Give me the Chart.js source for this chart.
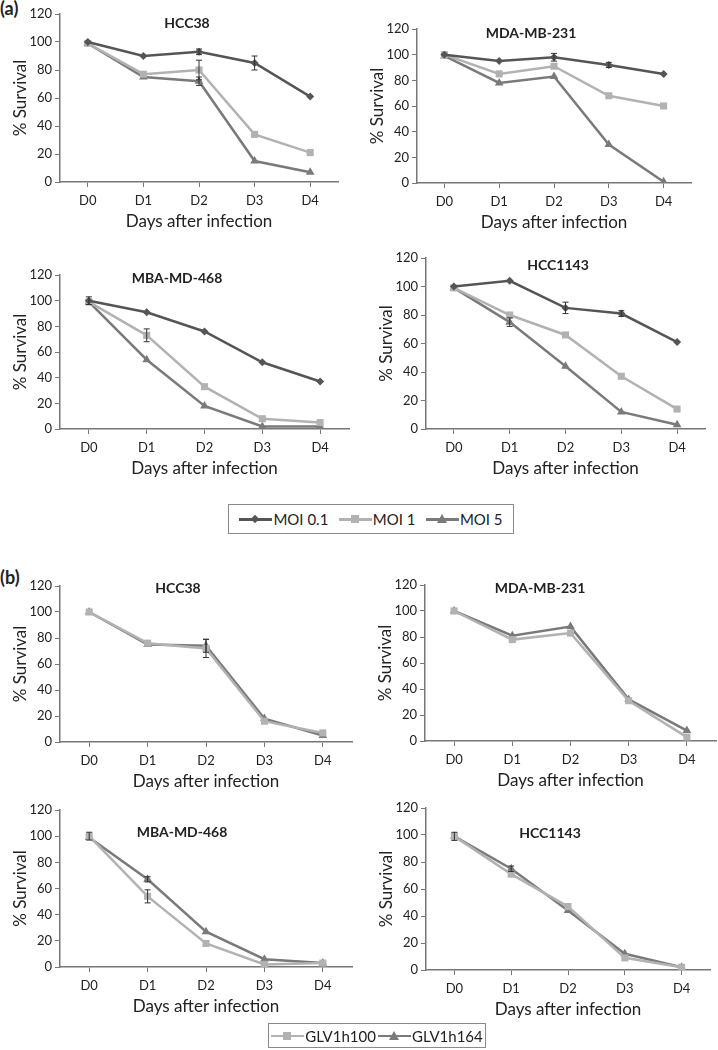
<!DOCTYPE html>
<html>
<head>
<meta charset="utf-8">
<script src="https://cdn.jsdelivr.net/npm/chart.js@4"></script>
<style>
  body { margin: 0; background: #fff; font-family: Lato, sans-serif; }
  #page { position: relative; width: 718px; height: 1050px; overflow: hidden; }
  .panel { position: absolute; }
  .tag { position: absolute; font-weight: bold; font-size: 18px; color: #222; }
  .legend { position: absolute; border: 1px solid #8a8a8a; display: flex; align-items: center; justify-content: space-evenly; font-size: 15px; color: #222; box-sizing: border-box; white-space: nowrap; }
  .item { display: flex; align-items: center; white-space: nowrap; }
  .key { position: relative; width: 33px; height: 12px; margin-right: 1px; flex: none; }
  .key .ln { position: absolute; left: 0; right: 0; top: 5px; height: 2.5px; }
  .key .mk { position: absolute; left: 12px; top: 2px; width: 8px; height: 8px; }
</style>
</head>
<body>
<div id="page">
  <div class="tag" style="left:0;top:-3px">(a)</div>
  <div class="tag" style="left:0;top:566px">(b)</div>
</div>
<script>
const days = ['D0', 'D1', 'D2', 'D3', 'D4'];
const yMax = 120;
const yStep = 20;

// (a) MOI series
const hcc38Moi01 = [100, 90, 93, 85, 61];
const hcc38Moi1 = [99, 77, 80, 34, 21];
const hcc38Moi5 = [99, 75, 72, 15, 7];
const hcc38Moi01Err = [1, 1, 2, 5, 1];
const hcc38Moi1Err = [1, 1, 7, 1, 1];
const hcc38Moi5Err = [1, 1, 3, 1, 1];

const mda231Moi01 = [100, 95, 98, 92, 85];
const mda231Moi1 = [100, 85, 91, 68, 60];
const mda231Moi5 = [99, 78, 83, 30, 1];
const mda231Moi01Err = [1, 1, 3, 2, 1];
const mda231Moi1Err = [1, 1, 1, 1, 1];
const mda231Moi5Err = [1, 1, 1, 1, 1];

const mba468Moi01 = [100, 91, 76, 52, 37];
const mba468Moi1 = [99, 73, 33, 8, 5];
const mba468Moi5 = [99, 54, 18, 2, 2];
const mba468Moi01Err = [3, 1, 1, 1, 1];
const mba468Moi1Err = [1, 5, 1, 1, 1];
const mba468Moi5Err = [1, 1, 1, 1, 1];

const hcc1143Moi01 = [100, 104, 85, 81, 61];
const hcc1143Moi1 = [99, 80, 66, 37, 14];
const hcc1143Moi5 = [99, 75, 44, 12, 3];
const hcc1143Moi01Err = [1, 1, 4, 2, 1];
const hcc1143Moi1Err = [1, 1, 1, 1, 1];
const hcc1143Moi5Err = [1, 3, 1, 1, 1];

// (b) virus strain series
const hcc38G100 = [100, 76, 72, 16, 7];
const hcc38G164 = [100, 75, 74, 18, 5];
const hcc38G100Err = [1, 1, 7, 1, 1];
const hcc38G164Err = [1, 1, 5, 1, 1];

const mda231G100 = [100, 78, 83, 31, 3];
const mda231G164 = [100, 81, 88, 32, 8];
const mda231G100Err = [1, 1, 1, 1, 1];
const mda231G164Err = [1, 1, 1, 1, 1];

const mba468G100 = [100, 54, 18, 2, 3];
const mba468G164 = [99, 67, 27, 6, 3];
const mba468G100Err = [3, 5, 1, 1, 1];
const mba468G164Err = [1, 2, 1, 1, 1];

const hcc1143G100 = [99, 71, 47, 9, 2];
const hcc1143G164 = [99, 75, 44, 12, 2];
const hcc1143G100Err = [3, 1, 1, 1, 1];
const hcc1143G164Err = [1, 2, 1, 1, 1];

const DARK = '#555555';
const LIGHT = '#b2b2b2';
const MID = '#7a7a7a';
const FONT = 'Lato, sans-serif';

function moiSets(a, b, c, ea, eb, ec) {
  return [
    { label: 'MOI 0.1', data: a, err: ea, borderColor: DARK, backgroundColor: DARK, pointStyle: 'rectRot', pointRadius: 4 },
    { label: 'MOI 1', data: b, err: eb, borderColor: LIGHT, backgroundColor: LIGHT, pointStyle: 'rect', pointRadius: 5 },
    { label: 'MOI 5', data: c, err: ec, borderColor: MID, backgroundColor: MID, pointStyle: 'triangle', pointRadius: 5 }
  ];
}
function glvSets(a, b, ea, eb) {
  return [
    { label: 'GLV1h100', data: a, err: ea, borderColor: LIGHT, backgroundColor: LIGHT, pointStyle: 'rect', pointRadius: 5 },
    { label: 'GLV1h164', data: b, err: eb, borderColor: MID, backgroundColor: MID, pointStyle: 'triangle', pointRadius: 5 }
  ];
}

// error bars from each dataset's err array
const errorBars = {
  id: 'errorBars',
  afterDatasetsDraw(chart) {
    const ctx = chart.ctx, y = chart.scales.y;
    ctx.save();
    ctx.strokeStyle = '#333';
    ctx.lineWidth = 1;
    chart.data.datasets.forEach((ds, i) => {
      const meta = chart.getDatasetMeta(i);
      meta.data.forEach((pt, j) => {
        const e = ds.err[j];
        if (e < 2) return;
        const top = y.getPixelForValue(ds.data[j] + e);
        const bot = y.getPixelForValue(ds.data[j] - e);
        ctx.beginPath();
        ctx.moveTo(pt.x, top); ctx.lineTo(pt.x, bot);
        ctx.moveTo(pt.x - 3, top); ctx.lineTo(pt.x + 3, top);
        ctx.moveTo(pt.x - 3, bot); ctx.lineTo(pt.x + 3, bot);
        ctx.stroke();
      });
    });
    ctx.restore();
  }
};

// cell-line name inside the plot
const panelTitle = {
  id: 'panelTitle',
  afterDraw(chart, args, opts) {
    const ctx = chart.ctx;
    ctx.save();
    ctx.font = 'bold 14px ' + FONT;
    ctx.fillStyle = '#222';
    ctx.textAlign = 'center';
    ctx.textBaseline = 'middle';
    ctx.fillText(opts.text, opts.x, opts.y);
    ctx.restore();
  }
};

function makePanel(p) {
  const padTop = 12, padRight = 8, yW = 60, xH = 54;
  const left = p.axisX - yW, top = p.y120 - padTop;
  const w = p.right - left + padRight, h = (p.y0 - p.y120) + padTop + xH;
  const div = document.createElement('div');
  div.className = 'panel';
  div.style.left = left + 'px';
  div.style.top = top + 'px';
  const cv = document.createElement('canvas');
  cv.width = w; cv.height = h;
  div.appendChild(cv);
  document.getElementById('page').appendChild(div);
  new Chart(cv, {
    type: 'line',
    data: {
      labels: days,
      datasets: p.sets.map(s => Object.assign({ borderWidth: 2.5, tension: 0, pointBorderWidth: 0, pointHoverRadius: 5 }, s))
    },
    options: {
      responsive: false,
      animation: false,
      layout: { padding: { top: padTop, right: padRight, left: 0, bottom: 0 } },
      plugins: {
        legend: { display: false },
        tooltip: { enabled: false },
        panelTitle: { text: p.title, x: p.tx - left, y: p.ty - top }
      },
      scales: {
        x: {
          offset: true,
          afterFit: s => { s.height = xH; },
          grid: { display: true, drawOnChartArea: false, drawTicks: true, tickLength: 5, color: '#777' },
          border: { display: true, color: '#777', width: 1.5 },
          ticks: { color: '#222', padding: 6, font: { family: FONT, size: 13 } },
          title: { display: true, text: 'Days after infection', color: '#222', padding: { top: 0, bottom: 4 }, font: { family: FONT, size: 17 } }
        },
        y: {
          min: 0, max: yMax,
          afterFit: s => { s.width = yW; },
          grid: { display: true, drawOnChartArea: false, drawTicks: true, tickLength: 5, color: '#777' },
          border: { display: true, color: '#777', width: 1.5 },
          ticks: { stepSize: yStep, color: '#222', padding: 3, font: { family: FONT, size: 13 } },
          title: { display: true, text: '% Survival', color: '#222', padding: { top: 10, bottom: 0 }, font: { family: FONT, size: 17 } }
        }
      }
    },
    plugins: [errorBars, panelTitle]
  });
}

const panels = [
  { title: 'HCC38', axisX: 60, y120: 14, y0: 182, right: 338, tx: 187, ty: 23, sets: moiSets(hcc38Moi01, hcc38Moi1, hcc38Moi5, hcc38Moi01Err, hcc38Moi1Err, hcc38Moi5Err) },
  { title: 'MDA-MB-231', axisX: 417, y120: 29, y0: 183, right: 691, tx: 531, ty: 33, sets: moiSets(mda231Moi01, mda231Moi1, mda231Moi5, mda231Moi01Err, mda231Moi1Err, mda231Moi5Err) },
  { title: 'MBA-MD-468', axisX: 60, y120: 275, y0: 429, right: 349, tx: 177, ty: 278, sets: moiSets(mba468Moi01, mba468Moi1, mba468Moi5, mba468Moi01Err, mba468Moi1Err, mba468Moi5Err) },
  { title: 'HCC1143', axisX: 426, y120: 258, y0: 429, right: 705, tx: 558, ty: 265, sets: moiSets(hcc1143Moi01, hcc1143Moi1, hcc1143Moi5, hcc1143Moi01Err, hcc1143Moi1Err, hcc1143Moi5Err) },
  { title: 'HCC38', axisX: 60, y120: 586, y0: 742, right: 352, tx: 178, ty: 588, sets: glvSets(hcc38G100, hcc38G164, hcc38G100Err, hcc38G164Err) },
  { title: 'MDA-MB-231', axisX: 425, y120: 585, y0: 741, right: 716, tx: 540, ty: 588, sets: glvSets(mda231G100, mda231G164, mda231G100Err, mda231G164Err) },
  { title: 'MBA-MD-468', axisX: 60, y120: 810, y0: 967, right: 352, tx: 182, ty: 832, sets: glvSets(mba468G100, mba468G164, mba468G100Err, mba468G164Err) },
  { title: 'HCC1143', axisX: 426, y120: 808, y0: 970, right: 710, tx: 550, ty: 833, sets: glvSets(hcc1143G100, hcc1143G164, hcc1143G100Err, hcc1143G164Err) }
];
panels.forEach(makePanel);

// legends
function marker(style, color) {
  if (style === 'rectRot') return '<div class="mk" style="left:13px;top:3px;width:6px;height:6px;background:' + color + ';transform:rotate(45deg)"></div>';
  if (style === 'rect') return '<div class="mk" style="background:' + color + '"></div>';
  return '<div class="mk" style="left:11px;top:1px;width:0;height:0;border-left:5px solid transparent;border-right:5px solid transparent;border-bottom:9px solid ' + color + '"></div>';
}
function makeLegend(sets, box) {
  const el = document.createElement('div');
  el.className = 'legend';
  Object.assign(el.style, { left: box.x + 'px', top: box.y + 'px', width: box.w + 'px', height: box.h + 'px' });
  el.innerHTML = sets.map(s =>
    '<div class="item"><div class="key"><div class="ln" style="background:' + s.borderColor + '"></div>' +
    marker(s.pointStyle, s.borderColor) + '</div><span>' + s.label + '</span></div>').join('');
  document.getElementById('page').appendChild(el);
}
makeLegend(moiSets([], [], [], [], [], []), { x: 228, y: 504, w: 286, h: 30 });
makeLegend(glvSets([], [], [], []), { x: 268, y: 1023, w: 218, h: 25 });
</script>
</body>
</html>
